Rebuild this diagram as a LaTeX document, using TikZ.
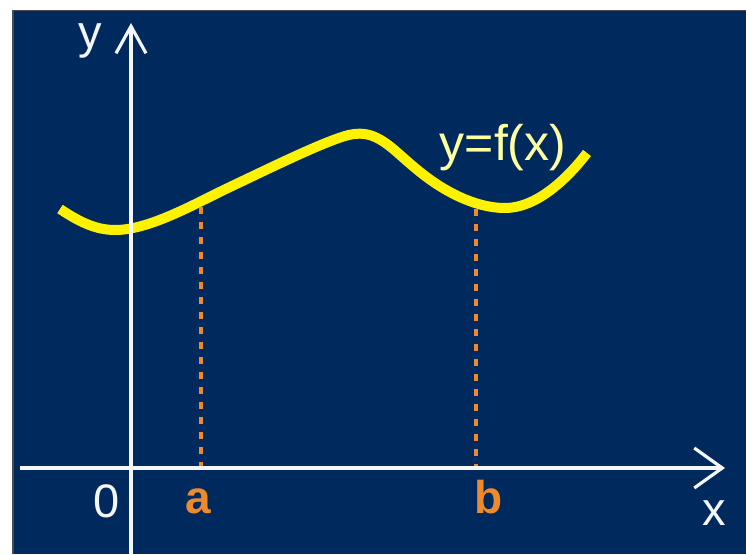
\documentclass[tikz,border=0pt]{standalone}
\usepackage{fontspec}
\setmainfont{Liberation Sans}
\usetikzlibrary{arrows.meta}
\definecolor{bgblue}{HTML}{002A5E}
\definecolor{curveyellow}{HTML}{FFF200}
\definecolor{labelyellow}{HTML}{FFFFA0}
\definecolor{dashorange}{HTML}{EE8A2C}
\definecolor{axiswhite}{HTML}{F4F6FA}
\tikzset{
  axis/.style={draw=axiswhite, line width=3.2pt},
  lbl/.style={text=axiswhite, font=\fontsize{47}{50}\selectfont, anchor=base, inner sep=0pt},
  ptlbl/.style={text=dashorange, font=\fontsize{46}{50}\selectfont\bfseries, anchor=base, inner sep=0pt},
  guide/.style={draw=dashorange, line width=3.4pt, dash pattern=on 7pt off 8pt},
  fcurve/.style={draw=curveyellow, line width=10pt, line cap=butt, line join=round},
}
\begin{document}
\begin{tikzpicture}[x=1pt,y=-1pt]
\useasboundingbox (0,0) rectangle (746,554);
\fill[white] (0,0) rectangle (746,554);
\fill[bgblue] (13,10) rectangle (746,554);
\draw[black!70, line width=1.5pt] (13,554) -- (13,10.5) -- (746,10.5);
% curve
\draw[fcurve] (60,209) .. controls (78,221) and (95,230) .. (115,230)
  .. controls (150,230) and (195,203.5) .. (230,187)
  .. controls (270,168) and (320,143.5) .. (345,136)
  .. controls (355,133) and (365,132.5) .. (375,137)
  .. controls (390,143.75) and (400,156) .. (420,172)
  .. controls (450,196) and (480,208) .. (505,208)
  .. controls (540,208) and (572,172.5) .. (587,153);
% guides
\coordinate (pa) at (201,207);
\coordinate (qa) at (201,468);
\coordinate (pb) at (476,209);
\coordinate (qb) at (476,468);
\draw[guide] (pa) -- (qa);
\draw[guide] (pb) -- (qb);
% axes
\coordinate (xs) at (20,468);
\coordinate (xe) at (725,468);
\coordinate (ys) at (131,554);
\coordinate (ye) at (131,23);
\draw[axis, -{Straight Barb[length=28pt, width=40pt, line width=3.2pt]}] (xs) -- (xe);
\draw[axis, -{Straight Barb[length=27pt, width=30pt, line width=3.2pt]}] (ys) -- (ye);
% labels
\node[lbl] (ylab) at (90,48) {y};
\node[lbl] (xlab) at (714,525) {x};
\node[lbl] (zero) at (107,517) {0};
\node[ptlbl] (alab) at (198,513) {a};
\node[ptlbl] (blab) at (489,513) {b};
\node[lbl, text=labelyellow, font=\fontsize{50}{54}\selectfont] (flab) at (503,160) {y=f(x)};
\end{tikzpicture}
\end{document}
